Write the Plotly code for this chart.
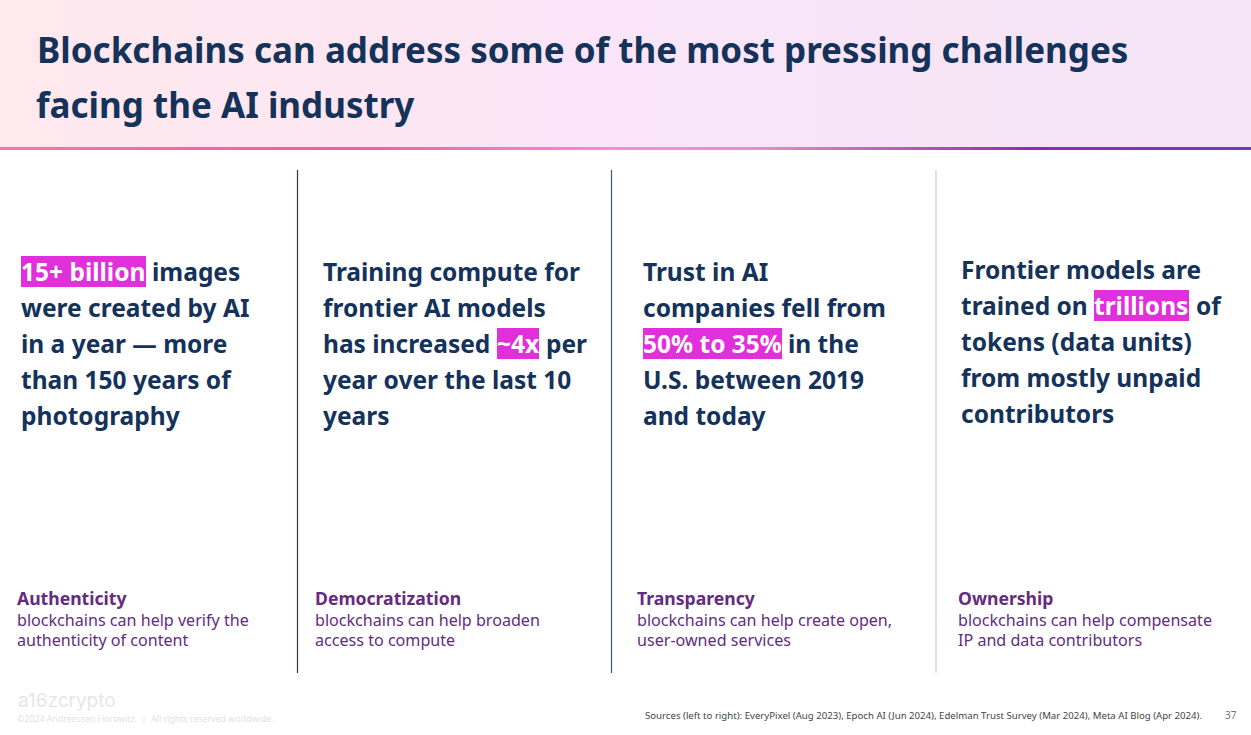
import plotly.graph_objects as go

W, H = 1251, 735
FONT = "Noto Sans"
NAVY = "#14325A"
PURPLE = "#642B80"
MAGENTA = "#E22FDC"

title_lines = ["Blockchains can address some of the most pressing challenges", "facing the AI industry"]

# (text, highlighted?) pieces on each line of the four columns
col1 = [[("15+ billion", True), ("images", False)], [("were created by AI", False)],
        [("in a year — more", False)], [("than 150 years of", False)], [("photography", False)]]
col2 = [[("Training compute for", False)], [("frontier AI models", False)],
        [("has increased", False), ("~4x", True), ("per", False)],
        [("year over the last 10", False)], [("years", False)]]
col3 = [[("Trust in AI", False)], [("companies fell from", False)],
        [("50% to 35%", True), ("in the", False)], [("U.S. between 2019", False)], [("and today", False)]]
col4 = [[("Frontier models are", False)], [("trained on", False), ("trillions", True), ("of", False)],
        [("tokens (data units)", False)], [("from mostly unpaid", False)], [("contributors", False)]]

heads = ["Authenticity", "Democratization", "Transparency", "Ownership"]
subs = [["blockchains can help verify the", "authenticity of content"],
        ["blockchains can help broaden", "access to compute"],
        ["blockchains can help create open,", "user-owned services"],
        ["blockchains can help compensate", "IP and data contributors"]]

sources = "Sources (left to right): EveryPixel (Aug 2023), Epoch AI (Jun 2024), Edelman Trust Survey (Mar 2024), Meta AI Blog (Apr 2024)."
copyright_txt = "©2024 Andreessen Horowitz.  |  All rights reserved worldwide."
page_no = "37"

# gradient stops
header_scale = [[0, "#FFE9EE"], [0.3, "#FCE6F2"], [0.45, "#F9E5F7"], [1, "#F5E5F6"]]
rule_scale = [[0, "#FB74A8"], [0.28, "#F75C9B"], [0.5, "#F090D4"], [0.6, "#E58FD0"], [0.83, "#8F2CA8"], [1, "#7A3AA8"]]

# the gradients are drawn as thin heatmap columns, no smoothing
N = 250
edges = [W * i / N for i in range(N + 1)]
ramp = [i / (N - 1) for i in range(N)]

fig = go.Figure()
fig.add_trace(go.Heatmap(x=edges, y=[0, 73, 147], z=[ramp, ramp], colorscale=header_scale,
                         zmin=0, zmax=1, showscale=False, hoverinfo="skip"))
fig.add_trace(go.Heatmap(x=edges, y=[147, 148.5, 150], z=[ramp, ramp], colorscale=rule_scale,
                         zmin=0, zmax=1, showscale=False, hoverinfo="skip"))


def label(x, y, text, size, color, bold=False, anchor="left"):
    fig.add_annotation(x=x, y=y, text=f"<b>{text}</b>" if bold else text, showarrow=False,
                       xanchor=anchor, yanchor="middle", borderpad=0,
                       font=dict(family=FONT, size=size, color=color))


# title
label(35.5, 49, title_lines[0], 35, NAVY, True)
label(35, 104, title_lines[1], 35, NAVY, True)

# dividers
for x, c in [(297.5, "#22384F"), (611.5, "#3C5A75"), (936, "#BDD3E4")]:
    fig.add_shape(type="line", x0=x, x1=x, y0=170, y1=673, line=dict(color=c, width=1.2))

# big statements: x of every piece
pieces_x = [
    [[20, 151], [20], [20], [20], [20]],
    [[322], [322], [322, 496, 545], [322], [322]],
    [[642], [642], [642, 787], [642], [642]],
    [[960], [960, 1093, 1195], [960], [960], [960]],
]
# highlighted word: left edge of the block stays 1px right of the text start
hl_w = {"15+ billion": 125, "~4x": 42, "50% to 35%": 139, "trillions": 95}
col_y = [272, 272, 272, 270]
for col, xs, y0 in zip([col1, col2, col3, col4], pieces_x, col_y):
    for i, line in enumerate(col):
        y = y0 + i * 36
        for (txt, hl), x in zip(line, xs[i]):
            if hl:
                fig.add_shape(type="rect", x0=x + 1, x1=x + 1 + hl_w[txt], y0=y - 16, y1=y + 15,
                              fillcolor=MAGENTA, line_width=0, layer="below")
                label(x, y - 1, txt, 24.5, "white", True)
            else:
                label(x, y - 1, txt, 24.5, NAVY, True)

# bottom captions
for x, h, s in zip([16, 313.5, 635.5, 957], heads, subs):
    label(x, 598, h, 17.6, PURPLE, True)
    label(x, 619.5, s[0], 16.1, PURPLE)
    label(x, 639.5, s[1], 16.1, PURPLE)

# footer
fig.add_annotation(x=16, y=700, text="a16zcrypto", showarrow=False, xanchor="left", yanchor="middle",
                   font=dict(family="Inter", size=19, color="#E6E6E6"))
label(16, 719, copyright_txt, 8.8, "#E2E2E2")
label(644, 715.5, sources, 9.65, "#444444")
label(1224, 715, page_no, 10, "#777777")

fig.update_layout(width=W, height=H, margin=dict(l=0, r=0, t=0, b=0), paper_bgcolor="white", plot_bgcolor="white",
                  xaxis=dict(range=[0, W], visible=False, fixedrange=True),
                  yaxis=dict(range=[H, 0], visible=False, fixedrange=True),
                  showlegend=False)
fig.write_html("out.html", config=dict(displayModeBar=False),
               post_script="document.body.style.margin='0';document.body.style.overflow='hidden';")
